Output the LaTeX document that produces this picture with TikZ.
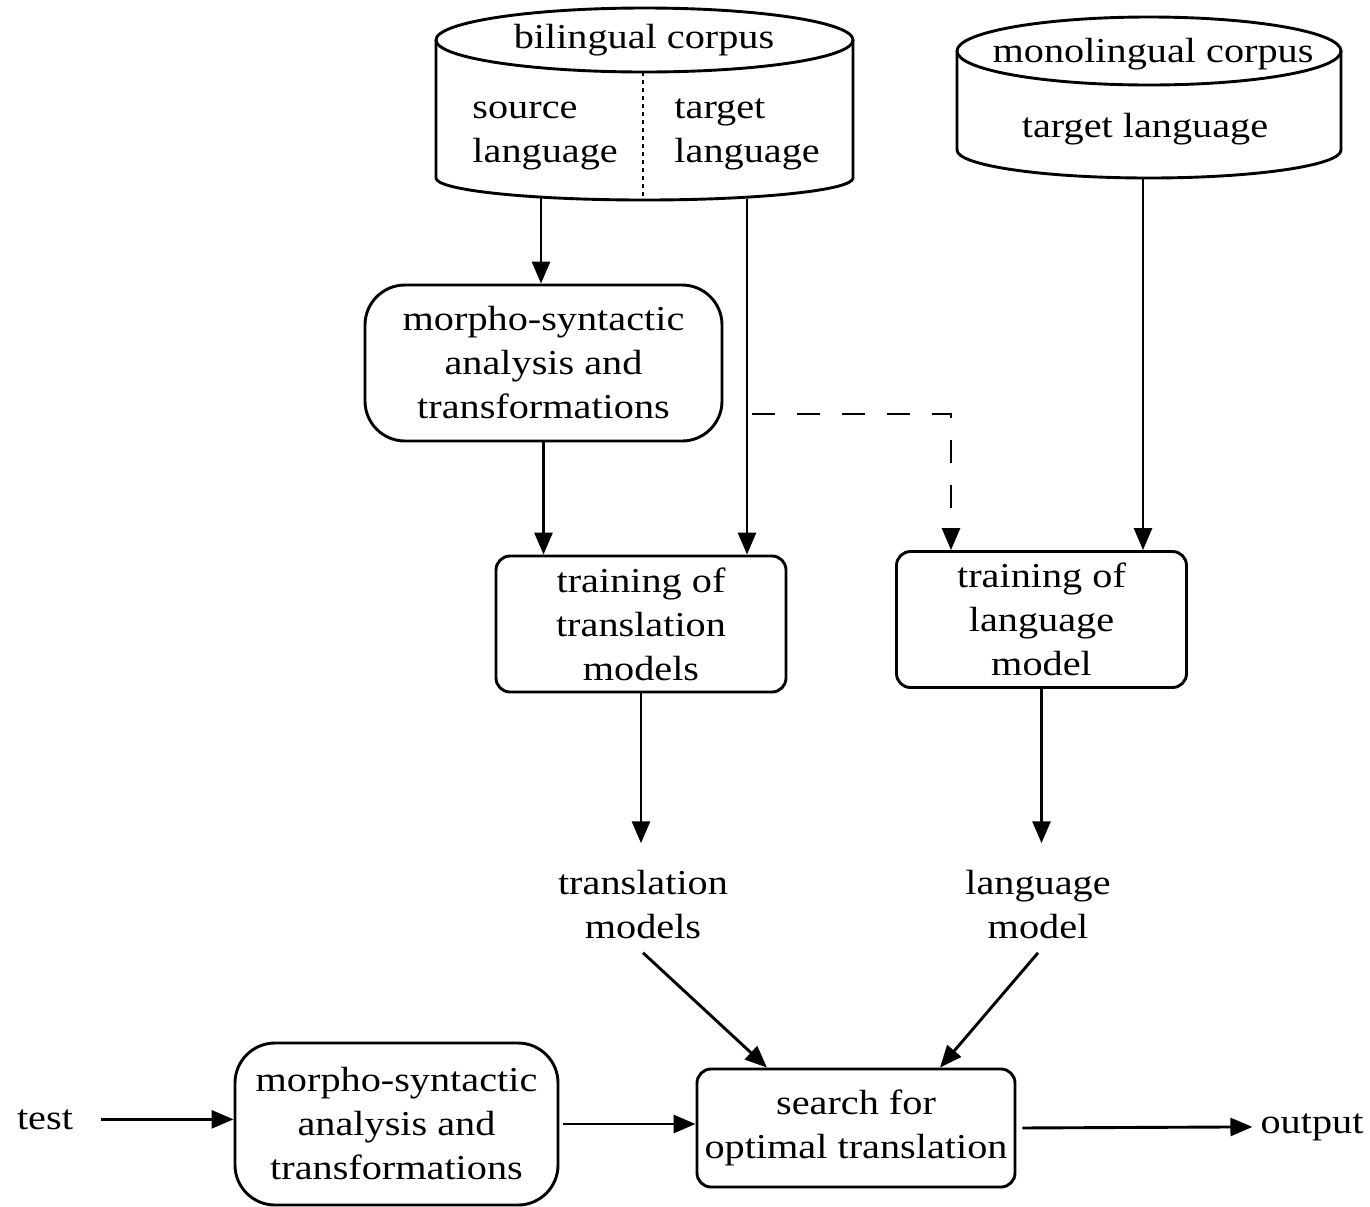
\documentclass[tikz,border=0pt]{standalone}
\usepackage{fontspec}
\setmainfont{Liberation Serif}[FakeStretch=1.15]
\usetikzlibrary{arrows.meta,positioning}

\begin{document}
\begin{tikzpicture}[x=0.5pt,y=-0.5pt,line width=1.45pt,>={Triangle[length=11pt,width=9pt]},
	every node/.style={font=\fontsize{17.5}{22}\selectfont},
	round box/.style={draw,rounded corners=20pt,align=center,inner sep=0pt,minimum width=178.5pt,minimum height=78pt},
	small box/.style={draw,rounded corners=7pt,align=center,inner sep=0pt,minimum width=145pt,minimum height=68pt},
	result/.style={align=center,inner sep=6pt},
	corpus text/.style={anchor=base west,align=left,inner sep=0pt}]
	\useasboundingbox (0,0) rectangle (1370,1206);
	\draw (644.5,40) ellipse [x radius=208.5,y radius=32];
	\draw (436,40) -- (436,178) arc [start angle=180,end angle=0,x radius=208.5,y radius=22] -- (853,40);
	\draw[line width=1.3pt,dash pattern=on 2pt off 2pt] (643,72) -- (643,200);
	\draw (1149,51) ellipse [x radius=192,y radius=34];
	\draw (957,51) -- (957,150) arc [start angle=180,end angle=0,x radius=192,y radius=28] -- (1341,51);
	\node[anchor=base] (bil) at (644,48) {bilingual corpus};
	\node[corpus text] (src) at (471,162) {source\\language};
	\node[corpus text] (tgt) at (673,162) {target\\language};
	\node[anchor=base] (mono) at (1153,62) {monolingual corpus};
	\node[anchor=base] (monotgt) at (1145,137) {target language};
	\node[round box] (m1) at (543.5,363) {morpho-syntactic\\analysis and\\transformations};
	\node[small box] (tt) at (641,624) {training of\\translation\\models};
	\node[small box] (tl) at (1041.5,619.5) {training of\\language\\model};
	\node[result] (tm) at (643,905) {translation\\models};
	\node[result] (lm) at (1038,905) {language\\model};
	\node[small box,minimum width=159pt,minimum height=59pt] (search) at (856,1128) {search for\\optimal translation};
	\node[round box,minimum width=161.5pt,minimum height=81pt] (m2) at (396.5,1124) {morpho-syntactic\\analysis and\\transformations};
	\node[anchor=base] (test) at (45,1129) {test};
	\node[anchor=base] (out) at (1312,1133) {output};
	\coordinate (bilS) at (541,197);
	\coordinate (bilT) at (747,199);
	\coordinate (fork) at (747,414);
	\coordinate (monS) at (1143,178);
	\draw[->] (bilS) -- (bilS |- m1.north);
	\draw[->] (bilT) -- (bilT |- tt.north);
	\draw[->,dash pattern=on 11.5pt off 11pt,shorten <=2.5pt] (fork) -| ([xshift=-45.25pt]tl.north);
	\draw[->] (monS) -- (monS |- tl.north);
	\draw[->] (m1.south) -- (m1.south |- tt.north);
	\draw[->,shorten >=7pt] (tt.south) -- (tt.south |- tm.north);
	\draw[->,shorten >=7pt] (tl.south) -- (tl.south |- lm.north);
	\draw[->] (tm.south) -- ([xshift=-44.5pt]search.north);
	\draw[->] (lm.south) -- ([xshift=42pt]search.north);
	\draw[->,shorten <=10pt] (test.east) -- (test.east -| m2.west);
	\draw[->,shorten <=2pt] (m2.east) -- (m2.east -| search.west);
	\draw[->,shorten <=3pt] (search.east) -- (out.west);
\end{tikzpicture}
\end{document}
